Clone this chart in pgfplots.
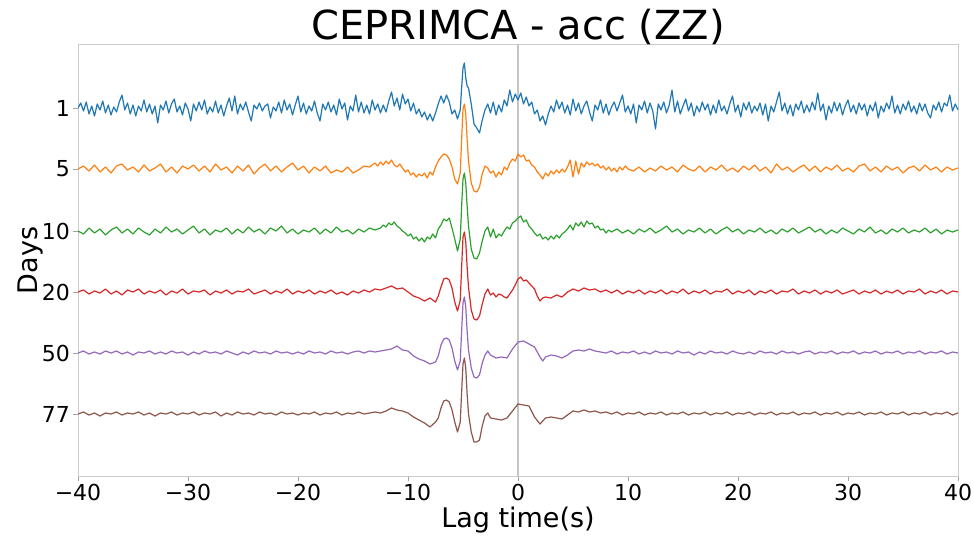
\documentclass[border=0pt]{standalone}
\usepackage{fontspec}
\setmainfont{DejaVu Sans}
\usepackage{pgfplots}
\pgfplotsset{compat=1.18}
\definecolor{c0}{HTML}{1F77B4}
\definecolor{c1}{HTML}{FF7F0E}
\definecolor{c2}{HTML}{2CA02C}
\definecolor{c3}{HTML}{D62728}
\definecolor{c4}{HTML}{9467BD}
\definecolor{c5}{HTML}{8C564B}
\definecolor{spine}{HTML}{CCCCCC}
\definecolor{zeroline}{HTML}{C4C4C4}
\begin{document}
\begin{tikzpicture}
\begin{axis}[
 scale only axis, width=880pt, height=431pt,
 xmin=-40, xmax=40, ymin=0, ymax=431,
 xtick={-40,-30,-20,-10,0,10,20,30,40},
 xticklabels={−40,−30,−20,−10,0,10,20,30,40},
 ytick={62,123,184,245,307,368},
 yticklabels={77,50,20,10,5,1},
 tick align=outside, xtick pos=bottom, ytick pos=left,
 major tick length=5pt,
 every tick/.style={line width=0.8pt, color=spine!80!black},
 axis line style={spine, line width=1pt},
 ticklabel style={font=\fontsize{22}{22}\selectfont},
 xticklabel style={anchor=base, inner sep=0pt, yshift=-19pt},
 yticklabel style={anchor=east, inner sep=0pt, xshift=-3pt},
 title={CEPRIMCA - acc (ZZ)},
 every axis title/.style={at={(axis description cs:0.5,1)}, anchor=base, yshift=5pt, font=\fontsize{40}{40}\selectfont},
 xlabel={Lag time(s)},
 every axis x label/.style={at={(axis description cs:0.5,0)}, anchor=base, yshift=-51pt, font=\fontsize{27}{27}\selectfont},
 ylabel={Days},
 every axis y label/.style={at={(axis description cs:-0.0545,0.5)}, rotate=90, anchor=center, font=\fontsize{27}{27}\selectfont},
 every axis plot/.append style={no markers, line width=1.2pt, line join=round},
 clip=true,
]
\addplot[zeroline, line width=1.3pt] coordinates {(0,0)(0,431)};
% Day 1
\addplot[c0] coordinates {
(-40,368)(-39.75,373)(-39.5,365)(-39.25,374)(-39,362)(-38.75,370)(-38.5,360)(-38.25,372)(-38,366)(-37.75,375)(-37.5,363)(-37.25,371)(-37,361)(-36.75,369)(-36.5,364)(-36.25,374)(-36,381)(-35.75,366)(-35.5,373)(-35.25,362)(-35,371)(-34.75,360)(-34.5,370)(-34.25,365)(-34,376)(-33.75,364)(-33.5,372)(-33.25,362)(-33,370)(-32.75,353)(-32.5,371)(-32.25,366)(-32,375)(-31.75,363)(-31.5,372)(-31.25,377)(-31,364)(-30.75,370)(-30.5,361)(-30.25,373)(-30,367)(-29.75,355)(-29.5,372)(-29.25,365)(-29,374)(-28.75,366)(-28.5,376)(-28.25,362)(-28,369)(-27.75,364)(-27.5,375)(-27.25,363)(-27,371)(-26.75,360)(-26.5,370)(-26.25,378)(-26,365)(-25.75,380)(-25.5,362)(-25.25,372)(-25,366)(-24.75,374)(-24.5,364)(-24.25,355)(-24,371)(-23.75,367)(-23.5,373)(-23.25,365)(-23,370)(-22.75,372)(-22.5,358)(-22.25,369)(-22,365)(-21.75,374)(-21.5,363)(-21.25,376)(-21,366)(-20.75,372)(-20.5,361)(-20.25,371)(-20,380)(-19.75,364)(-19.5,373)(-19.25,362)(-19,370)(-18.75,365)(-18.5,375)(-18.25,363)(-18,355)(-17.75,372)(-17.5,366)(-17.25,374)(-17,364)(-16.75,371)(-16.5,361)(-16.25,377)(-16,367)(-15.75,373)(-15.5,356)(-15.25,370)(-15,365)(-14.75,381)(-14.5,364)(-14.25,374)(-14,363)(-13.75,371)(-13.5,362)(-13.25,376)(-13,366)(-12.75,372)(-12.5,363)
(-12.25,371)(-12,364)(-11.75,375)(-11.5,384)(-11.25,370)(-11,378)(-10.75,366)(-10.5,382)(-10.25,372)(-10,377)(-9.75,365)(-9.5,373)(-9.25,362)(-9,367)(-8.75,359)(-8.5,364)(-8.25,356)(-8,362)(-7.75,355)(-7.5,363)(-7.25,372)(-7,380)(-6.75,373)(-6.5,381)(-6.25,374)(-6,362)(-5.75,366)(-5.5,357)(-5.25,366)(-5.125,388)(-5,408)(-4.875,413)(-4.75,398)(-4.625,390)(-4.5,388)(-4.25,372)(-4,352)(-3.75,348)(-3.5,343)(-3.25,356)(-3,366)(-2.75,372)(-2.5,363)(-2.25,374)(-2,361)(-1.75,371)(-1.5,364)(-1.25,376)(-1,370)(-0.75,386)(-0.5,374)(-0.25,382)(0,376)(0.25,383)(0.5,372)(0.75,379)(1,370)(1.25,374)(1.5,362)(1.75,366)(2,355)(2.25,360)(2.5,351)(2.75,362)(3,370)(3.25,364)(3.5,376)(3.75,367)(4,374)
(4.25,363)(4.5,371)(4.75,361)(5,377)(5.25,365)(5.5,373)(5.75,362)(6,370)(6.25,375)(6.5,364)(6.75,355)(7,371)(7.25,366)(7.5,376)(7.75,363)(8,372)(8.25,361)(8.5,369)(8.75,374)(9,365)(9.25,373)(9.5,381)(9.75,364)(10,370)(10.25,362)(10.5,372)(10.75,353)(11,371)(11.25,366)(11.5,375)(11.75,363)(12,373)(12.25,365)(12.5,347)(12.75,372)(13,366)(13.25,374)(13.5,363)(13.75,371)(14,386)(14.25,364)(14.5,375)(14.75,362)(15,370)(15.25,377)(15.5,365)(15.75,373)(16,360)(16.25,370)(16.5,364)(16.75,374)(17,366)(17.25,372)(17.5,361)(17.75,371)(18,363)(18.25,376)(18.5,365)(18.75,370)(19,362)(19.25,372)(19.5,380)(19.75,364)(20,371)(20.25,359)(20.5,373)(20.75,366)(21,374)(21.25,363)(21.5,370)(21.75,365)(22,373)(22.25,361)(22.5,372)(22.75,355)(23,370)(23.25,364)(23.5,374)(23.75,384)(24,365)(24.25,373)(24.5,362)(24.75,371)(25,360)(25.25,372)(25.5,366)(25.75,375)(26,363)(26.25,371)(26.5,364)(26.75,374)(27,366)(27.25,383)(27.5,365)(27.75,372)(28,356)(28.25,370)(28.5,363)(28.75,374)(29,365)(29.25,373)(29.5,361)(29.75,370)(30,376)(30.25,364)(30.5,371)(30.75,362)(31,373)(31.25,366)(31.5,372)(31.75,360)(32,371)(32.25,365)(32.5,374)(32.75,358)(33,370)(33.25,364)(33.5,373)(33.75,367)(34,380)(34.25,363)(34.5,371)(34.75,362)(35,372)(35.25,366)(35.5,375)(35.75,364)(36,370)(36.25,362)(36.5,373)(36.75,365)(37,372)(37.25,363)(37.5,358)(37.75,371)(38,366)(38.25,374)(38.5,364)(38.75,373)(39,370)(39.25,381)(39.5,365)(39.75,372)(40,366)
};
% Day 5
\addplot[c1] coordinates {
(-40,307)(-39.5,310)(-39,305)(-38.5,311)(-38,304)(-37.5,309)(-37,303)(-36.5,310)(-36,312)(-35.5,306)(-35,309)(-34.5,304)(-34,311)(-33.5,305)(-33,308)(-32.5,312)(-32,304)(-31.5,309)(-31,303)(-30.5,310)(-30,307)(-29.5,311)(-29,305)(-28.5,310)(-28,304)(-27.5,312)(-27,306)(-26.5,309)(-26,303)(-25.5,310)(-25,305)(-24.5,311)(-24,302)(-23.5,308)(-23,312)(-22.5,305)(-22,310)(-21.5,304)(-21,309)(-20.5,313)(-20,306)(-19.5,310)(-19,303)(-18.5,309)(-18,305)(-17.5,310)(-17,303)(-16.5,306)(-16,304)(-15.5,309)(-15,303)(-14.5,306)(-14,310)(-13.5,309)(-13,313)
(-12.75,310)(-12.5,314)(-12.25,311)(-12,315)(-11.75,312)(-11.5,316)(-11.25,311)(-11,309)(-10.75,312)(-10.5,308)(-10.25,304)(-10,306)(-9.75,301)(-9.5,303)(-9.25,299)(-9,302)(-8.75,300)(-8.5,303)(-8.25,298)(-8,304)(-7.75,301)(-7.5,309)(-7.25,315)(-7,319)(-6.75,322)(-6.5,321)(-6.25,317)(-6,309)(-5.75,297)(-5.5,292)(-5.25,303)(-5.125,337)(-5,367)(-4.875,372)(-4.75,362)(-4.625,337)(-4.5,315)(-4.25,293)(-4,285)(-3.75,284)(-3.5,289)(-3.25,302)(-3,310)(-2.75,308)(-2.5,303)(-2.25,305)(-2,299)(-1.75,304)(-1.5,301)(-1.25,309)(-1,306)(-0.75,313)(-0.5,317)(-0.25,315)(0,322)(0.25,319)(0.5,321)(0.75,315)(1,316)(1.25,311)(1.5,309)(1.75,304)(2,301)(2.25,297)(2.5,303)(2.75,300)(3,305)(3.25,302)(3.5,306)(3.75,303)(4,307)(4.25,304)(4.5,309)(4.75,316)(5,299)(5.25,315)(5.5,302)(5.75,313)(6,309)(6.25,314)(6.5,311)(6.75,313)(7,310)(7.25,312)(7.5,308)(7.75,310)(8,306)(8.25,309)(8.5,305)(8.75,308)(9,304)(9.25,309)(9.5,306)(9.75,310)(10,307)
(10.5,305)(11,309)(11.5,304)(12,308)(12.5,305)(13,310)(13.5,306)(14,309)(14.5,304)(15,311)(15.5,307)(16,305)(16.5,310)(17,304)(17.5,309)(18,306)(18.5,311)(19,305)(19.5,308)(20,304)(20.5,310)(21,306)(21.5,311)(22,305)(22.5,309)(23,303)(23.5,312)(24,306)(24.5,309)(25,304)(25.5,308)(26,311)(26.5,305)(27,310)(27.5,304)(28,309)(28.5,306)(29,311)(29.5,305)(30,308)(30.5,304)(31,310)(31.5,312)(32,305)(32.5,309)(33,304)(33.5,310)(34,306)(34.5,309)(35,303)(35.5,308)(36,310)(36.5,305)(37,311)(37.5,306)(38,309)(38.5,304)(39,309)(39.5,306)(40,308)
};
% Day 10
\addplot[c2] coordinates {
(-40,245)(-39.5,242)(-39,248)(-38.5,243)(-38,247)(-37.5,241)(-37,246)(-36.5,249)(-36,243)(-35.5,247)(-35,242)(-34.5,248)(-34,244)(-33.5,241)(-33,247)(-32.5,243)(-32,249)(-31.5,244)(-31,247)(-30.5,242)(-30,246)(-29.5,250)(-29,243)(-28.5,247)(-28,241)(-27.5,246)(-27,244)(-26.5,248)(-26,242)(-25.5,247)(-25,243)(-24.5,249)(-24,244)(-23.5,247)(-23,242)(-22.5,248)(-22,245)(-21.5,250)(-21,243)(-20.5,247)(-20,242)(-19.5,246)(-19,244)(-18.5,248)(-18,242)(-17.5,247)(-17,243)(-16.5,249)(-16,244)(-15.5,246)(-15,242)(-14.5,247)(-14,244)(-13.5,248)(-13,246)
(-12.5,248)(-12.25,251)(-12,249)(-11.75,253)(-11.5,251)(-11.25,254)(-11,250)(-10.75,248)(-10.5,245)(-10.25,243)(-10,240)(-9.75,242)(-9.5,237)(-9.25,239)(-9,235)(-8.75,238)(-8.5,234)(-8.25,239)(-8,237)(-7.75,242)(-7.5,238)(-7.25,247)(-7,251)(-6.75,257)(-6.5,255)(-6.25,258)(-6,248)(-5.75,237)(-5.5,225)(-5.25,237)(-5.125,270)(-5,297)(-4.875,303)(-4.75,293)(-4.625,270)(-4.5,250)(-4.25,227)(-4,218)(-3.75,217)(-3.5,223)(-3.25,235)(-3,245)(-2.75,249)(-2.5,239)(-2.25,247)(-2,238)(-1.75,242)(-1.5,240)(-1.25,245)(-1,249)(-0.75,247)(-0.5,253)(-0.25,255)(0,258)(0.25,260)(0.5,254)(0.75,256)(1,250)(1.25,247)(1.5,243)(1.75,240)(2,242)(2.25,237)(2.5,239)(2.75,236)(3,240)(3.25,237)(3.5,241)(3.75,238)(4,242)(4.25,244)(4.5,247)(4.75,251)(5,246)(5.25,253)(5.5,250)(5.75,254)(6,249)(6.25,255)(6.5,252)(6.75,253)(7,248)(7.25,250)(7.5,246)(7.75,247)(8,243)(8.25,246)(8.5,244)(9,247)(9.5,243)(10,246)
(10.5,242)(11,247)(11.5,244)(12,248)(12.5,243)(13,246)(13.5,250)(14,244)(14.5,247)(15,242)(15.5,246)(16,244)(16.5,248)(17,243)(17.5,247)(18,242)(18.5,246)(19,249)(19.5,244)(20,247)(20.5,242)(21,246)(21.5,244)(22,248)(22.5,243)(23,246)(23.5,242)(24,247)(24.5,244)(25,248)(25.5,243)(26,246)(26.5,249)(27,244)(27.5,247)(28,242)(28.5,246)(29,243)(29.5,248)(30,245)(30.5,242)(31,247)(31.5,244)(32,249)(32.5,243)(33,246)(33.5,242)(34,247)(34.5,244)(35,248)(35.5,243)(36,246)(36.5,244)(37,248)(37.5,243)(38,247)(38.5,242)(39,246)(39.5,244)(40,246)
};
% Day 20
\addplot[c3] coordinates {
(-40,184)(-39.5,186)(-39,182)(-38.5,185)(-38,183)(-37.5,187)(-37,182)(-36.5,185)(-36,181)(-35.5,186)(-35,184)(-34.5,187)(-34,182)(-33.5,185)(-33,183)(-32.5,186)(-32,181)(-31.5,185)(-31,183)(-30.5,187)(-30,182)(-29.5,185)(-29,184)(-28.5,186)(-28,181)(-27.5,185)(-27,183)(-26.5,186)(-26,182)(-25.5,185)(-25,184)(-24.5,187)(-24,182)(-23.5,184)(-23,186)(-22.5,182)(-22,185)(-21.5,183)(-21,187)(-20.5,182)(-20,185)(-19.5,183)(-19,186)(-18.5,182)(-18,185)(-17.5,183)(-17,186)(-16.5,182)(-16,184)(-15.5,181)(-15,185)(-14.5,183)(-14,186)(-13.5,184)(-13,187)
(-12.5,186)(-12,188)(-11.5,190)(-11,187)(-10.5,188)(-10,184)(-9.5,180)(-9,178)(-8.5,175)(-8,178)(-7.5,174)(-7.25,180)(-7,189)(-6.75,197)(-6.5,198)(-6.25,196)(-6,188)(-5.75,174)(-5.5,165)(-5.25,176)(-5.125,209)(-5,239)(-4.875,244)(-4.75,234)(-4.625,209)(-4.5,189)(-4.25,166)(-4,157)(-3.75,156)(-3.5,160)(-3.25,172)(-3,182)(-2.75,187)(-2.5,181)(-2.25,183)(-2,179)(-1.75,182)(-1.5,181)(-1.25,179)(-1,178)(-0.75,182)(-0.5,186)(-0.25,191)(0,197)(0.25,199)(0.5,195)(0.75,196)(1,193)(1.25,190)(1.5,187)(1.75,180)(2,175)(2.25,178)(2.5,179)(3,178)(3.5,181)(4,179)(4.5,184)(5,187)(5.5,185)(6,188)(6.5,186)(7,187)(7.5,184)(8,186)
(8.5,183)(9,186)(9.5,182)(10,185)(10.5,183)(11,186)(11.5,182)(12,185)(12.5,183)(13,186)(13.5,182)(14,185)(14.5,183)(15,187)(15.5,182)(16,185)(16.5,183)(17,186)(17.5,182)(18,185)(18.5,184)(19,187)(19.5,182)(20,185)(20.5,183)(21,186)(21.5,181)(22,185)(22.5,183)(23,186)(23.5,182)(24,185)(24.5,184)(25,187)(25.5,182)(26,185)(26.5,183)(27,186)(27.5,182)(28,185)(28.5,183)(29,186)(29.5,182)(30,184)(30.5,186)(31,182)(31.5,185)(32,183)(32.5,186)(33,182)(33.5,185)(34,183)(34.5,186)(35,182)(35.5,185)(36,184)(36.5,187)(37,182)(37.5,185)(38,183)(38.5,186)(39,182)(39.5,185)(40,184)
};
% Day 50
\addplot[c4] coordinates {
(-40,123)(-39.5,125)(-39,122)(-38.5,124)(-38,122)(-37.5,125)(-37,123)(-36.5,125)(-36,122)(-35.5,124)(-35,121)(-34.5,124)(-34,123)(-33.5,125)(-33,122)(-32.5,124)(-32,122)(-31.5,125)(-31,123)(-30.5,124)(-30,121)(-29.5,124)(-29,122)(-28.5,125)(-28,123)(-27.5,124)(-27,122)(-26.5,125)(-26,123)(-25.5,121)(-25,124)(-24.5,122)(-24,125)(-23.5,123)(-23,124)(-22.5,122)(-22,125)(-21.5,123)(-21,124)(-20.5,122)(-20,124)(-19.5,122)(-19,125)(-18.5,123)(-18,124)(-17.5,122)(-17,125)(-16.5,123)(-16,124)(-15.5,122)(-15,124)(-14.5,125)(-14,123)(-13.5,125)(-13,124)
(-12.5,125)(-12,126)(-11.5,127)(-11,130)(-10.5,126)(-10,125)(-9.5,120)(-9,117)(-8.5,115)(-8,112)(-7.5,114)(-7.25,120)(-7,131)(-6.75,137)(-6.5,138)(-6.25,136)(-6,128)(-5.75,115)(-5.5,106)(-5.25,115)(-5.125,145)(-5,173)(-4.875,179)(-4.75,169)(-4.625,145)(-4.5,126)(-4.25,108)(-4,99)(-3.75,98)(-3.5,101)(-3.25,113)(-3,121)(-2.75,125)(-2.5,121)(-2,118)(-1.5,119)(-1,118)(-0.5,127)(0,134)(0.5,135)(1,132)(1.5,129)(2,119)(2.25,115)(2.5,119)(3,121)(3.5,120)(4,118)(4.5,121)(5,125)(5.5,126)(6,125)(6.5,127)(7,125)(7.5,124)(8,123)
(8.5,125)(9,122)(9.5,124)(10,123)(10.5,125)(11,122)(11.5,124)(12,122)(12.5,125)(13,123)(13.5,124)(14,122)(14.5,125)(15,123)(15.5,124)(16,121)(16.5,124)(17,122)(17.5,125)(18,123)(18.5,124)(19,122)(19.5,125)(20,123)(20.5,122)(21,124)(21.5,122)(22,125)(22.5,123)(23,124)(23.5,122)(24,125)(24.5,123)(25,124)(25.5,122)(26,124)(26.5,125)(27,122)(27.5,124)(28,123)(28.5,125)(29,122)(29.5,124)(30,123)(30.5,125)(31,122)(31.5,124)(32,123)(32.5,125)(33,122)(33.5,124)(34,123)(34.5,125)(35,122)(35.5,124)(36,123)(36.5,125)(37,122)(37.5,124)(38,123)(38.5,125)(39,122)(39.5,124)(40,123)
};
% Day 77
\addplot[c5] coordinates {
(-40,62)(-39.5,64)(-39,61)(-38.5,63)(-38,60)(-37.5,63)(-37,62)(-36.5,64)(-36,61)(-35.5,63)(-35,62)(-34.5,64)(-34,61)(-33.5,63)(-33,60)(-32.5,63)(-32,62)(-31.5,64)(-31,61)(-30.5,63)(-30,62)(-29.5,64)(-29,61)(-28.5,63)(-28,62)(-27.5,64)(-27,60)(-26.5,63)(-26,61)(-25.5,64)(-25,62)(-24.5,63)(-24,61)(-23.5,64)(-23,62)(-22.5,63)(-22,61)(-21.5,64)(-21,62)(-20.5,63)(-20,61)(-19.5,63)(-19,62)(-18.5,64)(-18,61)(-17.5,63)(-17,62)(-16.5,64)(-16,61)(-15.5,63)(-15,62)(-14.5,64)(-14,62)(-13.5,63)(-13,64)
(-12.5,63)(-12,65)(-11.5,68)(-11,66)(-10.5,65)(-10,63)(-9.5,59)(-9,56)(-8.5,53)(-8,49)(-7.5,54)(-7.25,58)(-7,68)(-6.75,75)(-6.5,76)(-6.25,74)(-6,66)(-5.75,54)(-5.5,44)(-5.25,54)(-5.125,84)(-5,112)(-4.875,118)(-4.75,108)(-4.625,82)(-4.5,62)(-4.25,44)(-4,34)(-3.75,34)(-3.5,36)(-3.25,50)(-3,60)(-2.75,63)(-2.5,58)(-2,57)(-1.5,56)(-1,58)(-0.5,65)(0,72)(0.5,71)(1,70)(1.5,59)(2,52)(2.5,58)(3,59)(3.5,58)(4,57)(4.5,61)(5,65)(5.5,64)(6,66)(6.5,64)(7,65)(7.5,63)(8,64)
(8.5,62)(9,64)(9.5,61)(10,63)(10.5,62)(11,64)(11.5,61)(12,63)(12.5,62)(13,64)(13.5,61)(14,63)(14.5,62)(15,64)(15.5,61)(16,63)(16.5,62)(17,64)(17.5,61)(18,63)(18.5,62)(19,64)(19.5,61)(20,63)(20.5,62)(21,64)(21.5,61)(22,63)(22.5,62)(23,64)(23.5,61)(24,63)(24.5,62)(25,64)(25.5,61)(26,63)(26.5,62)(27,64)(27.5,61)(28,63)(28.5,62)(29,64)(29.5,61)(30,63)(30.5,62)(31,64)(31.5,61)(32,63)(32.5,62)(33,64)(33.5,61)(34,63)(34.5,62)(35,64)(35.5,61)(36,63)(36.5,62)(37,64)(37.5,61)(38,63)(38.5,62)(39,64)(39.5,61)(40,63)
};
\end{axis}
\pgfresetboundingbox
\useasboundingbox ([shift={(-78pt,-62pt)}]current axis.south west) rectangle ([shift={(16pt,45pt)}]current axis.north east);
\end{tikzpicture}
\end{document}
